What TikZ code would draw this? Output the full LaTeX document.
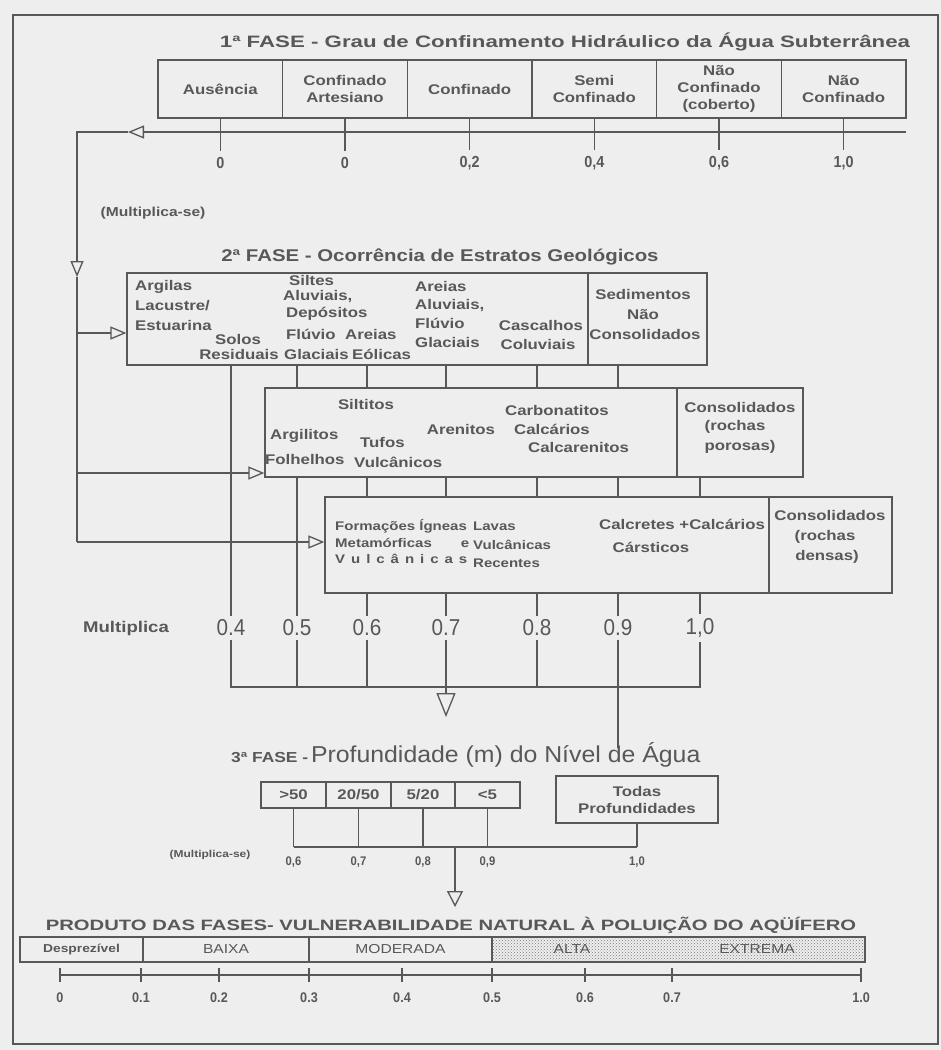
\documentclass[tikz,border=0pt]{standalone}
\usepackage{fontspec}
\setmainfont{Liberation Sans}
\newfontfamily\wf{Liberation Sans}[FakeStretch=1.2]
\newfontfamily\xf{Liberation Sans}[FakeStretch=1.35]
\newfontfamily\nf{Liberation Sans}[FakeStretch=0.9]
\newfontfamily\pf{Liberation Sans}[FakeStretch=1.08]
\usetikzlibrary{arrows.meta,patterns}
\definecolor{ink}{RGB}{88,88,88}
\definecolor{paper}{RGB}{238,238,238}
\tikzset{
  ln/.style={draw=ink, line width=1.3pt},
  bx/.style={draw=ink, line width=1.3pt, rectangle, inner sep=0pt, align=center, text=ink, font=\wf\bfseries\fontsize{14}{17}\selectfont},
  tx/.style={text=ink, inner sep=0pt, font=\wf\bfseries\fontsize{14}{17}\selectfont},
  tw/.style={tx, anchor=mid west},
  tc/.style={tx, anchor=mid},
  sm/.style={font=\wf\bfseries\fontsize{12.5}{14}\selectfont},
  arrA/.style={-{Triangle[open,length=16pt,width=13pt]}},
  arrB/.style={-{Triangle[open,length=24pt,width=19pt]}},
  num1/.style={text=ink, inner sep=0pt, font=\nf\bfseries\fontsize{16}{18}\selectfont},
  num2/.style={text=ink, inner sep=0pt, font=\nf\fontsize{23}{25}\selectfont},
  num3/.style={text=ink, inner sep=0pt, font=\nf\bfseries\fontsize{12.5}{14}\selectfont},
  bandtx/.style={text=ink, inner sep=0pt, font=\wf\fontsize{13}{15}\selectfont},
}
\begin{document}
\begin{tikzpicture}[x=1pt,y=-1pt]
\useasboundingbox (0,0) rectangle (941,1050);
\fill[paper] (0,0) rectangle (941,1050);
\draw[ln] (13,15) rectangle (938,1044);

% ---------------- FASE 1
\node[tx, font=\xf\bfseries\fontsize{16.5}{18}\selectfont] (t1) at (565,42) {1ª FASE - Grau de Confinamento Hidráulico da Água Subterrânea};
\node[bx, minimum width=124.7pt, minimum height=58pt] (f1a) at (220.33,89) {Ausência};
\node[bx, minimum width=124.7pt, minimum height=58pt] (f1b) at (345,89) {Confinado\\Artesiano};
\node[bx, minimum width=124.7pt, minimum height=58pt] (f1c) at (469.67,89) {Confinado};
\node[bx, minimum width=124.7pt, minimum height=58pt] (f1d) at (594.33,89) {Semi\\Confinado};
\node[bx, minimum width=124.7pt, minimum height=58pt] (f1e) at (719,89) {Não\\Confinado\\(coberto)};
\node[bx, minimum width=124.7pt, minimum height=58pt] (f1f) at (843.67,89) {Não\\Confinado};
\node[num1] (v1a) at (220.33,163) {0};
\node[num1] (v1b) at (345,163) {0};
\node[num1] (v1c) at (469.67,163) {0,2};
\node[num1] (v1d) at (594.33,163) {0,4};
\node[num1] (v1e) at (719,163) {0,6};
\node[num1] (v1f) at (843.67,163) {1,0};
\foreach \a in {a,b,c,d,e,f}{\draw[ln] (f1\a.south) -- ([yshift=6pt]v1\a.north);}
\coordinate (r1e) at (906,132);
\coordinate (r1t) at (128,132);
\coordinate (c1) at (77,132);
\coordinate (d1) at (77,277);
\coordinate (c2) at (77,542);
\draw[ln, arrA] (r1e) -- (r1t);
\draw[ln, arrA] (r1t) -- (c1) -- (d1);
\draw[ln] (d1) -- (c2);
\node[tx, font=\wf\bfseries\fontsize{13}{15}\selectfont] (ms1) at (153,213) {(Multiplica-se)};

% ---------------- FASE 2
\node[tx, font=\wf\bfseries\fontsize{17}{19}\selectfont] (t2) at (440,257) {2ª FASE - Ocorrência de Estratos Geológicos};
\node[bx, minimum width=461pt, minimum height=92pt] (f2a) at (357.5,319) {};
\node[bx, minimum width=119pt, minimum height=92pt] (f2aR) at (647.5,319) {};
\node[bx, minimum width=412pt, minimum height=89pt] (f2b) at (471,432.5) {};
\node[bx, minimum width=126pt, minimum height=89pt] (f2bR) at (740,432.5) {};
\node[bx, minimum width=444pt, minimum height=96pt] (f2c) at (547,545) {};
\node[bx, minimum width=123pt, minimum height=96pt] (f2cR) at (830.5,545) {};

% texts box 2a
\node[tw] (a1) at (135,288) {Argilas};
\node[tw] (a2) at (135,308) {Lacustre/};
\node[tw] (a3) at (135,328) {Estuarina};
\node[tc] (a4) at (238,342) {Solos};
\node[tc] (a5) at (239,357) {Residuais};
\node[tw] (a6) at (289,283) {Siltes};
\node[tw] (a7) at (283,298) {Aluviais,};
\node[tw] (a8) at (286,315) {Depósitos};
\node[tw] (a9) at (286,337) {Flúvio};
\node[tw] (a10) at (284,357) {Glaciais};
\node[tw] (a11) at (345,337) {Areias};
\node[tw] (a12) at (352,357) {Eólicas};
\node[tw] (a13) at (415,289) {Areias};
\node[tw] (a14) at (415,307) {Aluviais,};
\node[tw] (a15) at (415,326) {Flúvio};
\node[tw] (a16) at (415,345) {Glaciais};
\node[tc] (a17) at (541,328) {Cascalhos};
\node[tc] (a18) at (538,347) {Coluviais};
\node[tc] (a19) at (643,297) {Sedimentos};
\node[tc] (a20) at (643,317) {Não};
\node[tc] (a21) at (645,337) {Consolidados};
% texts box 2b
\node[tc] (b1) at (366,407) {Siltitos};
\node[tw] (b2) at (270,437) {Argilitos};
\node[tw] (b3) at (265,462) {Folhelhos};
\node[tw] (b4) at (360,445) {Tufos};
\node[tw] (b5) at (354,465) {Vulcânicos};
\node[tc] (b6) at (461,432) {Arenitos};
\node[tw] (b7) at (505,413) {Carbonatitos};
\node[tw] (b8) at (514,432) {Calcários};
\node[tw] (b9) at (528,450) {Calcarenitos};
\node[tc] (b10) at (740,410) {Consolidados};
\node[tc] (b11) at (735,428) {(rochas};
\node[tc] (b12) at (740,448) {porosas)};
% texts box 2c
\node[tw, sm] (c1t) at (335,528) {Formações Ígneas};
\node[tw, sm] (c2t) at (335,545) {\makebox[134pt][s]{Metamórficas e}};
\node[tw, sm] (c3t) at (335,561) {\makebox[132pt][s]{V u l c â n i c a s}};
\node[tw, sm] (c4t) at (473,528) {Lavas};
\node[tw, sm] (c5t) at (473,547) {Vulcânicas};
\node[tw, sm] (c6t) at (473,565) {Recentes};
\node[tw] (c7t) at (599,527) {Calcretes +Calcários};
\node[tc] (c8t) at (651,550) {Cársticos};
\node[tc] (c9t) at (830,518) {Consolidados};
\node[tc] (c10t) at (825,538) {(rochas};
\node[tc] (c11t) at (827,558) {densas)};

% branches into boxes
\coordinate (b1c) at (77,333);
\coordinate (b2c) at (77,473);
\coordinate (b3c) at (77,542);
\draw[ln, arrA] (b1c) -- (b1c -| f2a.west);
\draw[ln, arrA] (b2c) -- (b2c -| f2b.west);
\draw[ln, arrA] (b3c) -- (b3c -| f2c.west);

% values
\node[tx, font=\wf\bfseries\fontsize{15.5}{17}\selectfont] (mul) at (126,628) {Multiplica};
\node[num2] (m4) at (231,628) {0.4};
\node[num2] (m5) at (297,628) {0.5};
\node[num2] (m6) at (367,628) {0.6};
\node[num2] (m7) at (446,628) {0.7};
\node[num2] (m8) at (537,628) {0.8};
\node[num2] (m9) at (618,628) {0.9};
\node[num2] (m10) at (700,628) {1,0};

\draw[ln] (m4 |- f2a.south) -- ([yshift=4pt]m4.north);
\draw[ln] (m5 |- f2b.south) -- ([yshift=4pt]m5.north);
\foreach \n in {5,6,7,8,9}{\draw[ln] (m\n |- f2a.south) -- (m\n |- f2b.north);}
\foreach \n in {6,7,8,9,10}{\draw[ln] (m\n |- f2b.south) -- (m\n |- f2c.north);
  \draw[ln] (m\n |- f2c.south) -- ([yshift=4pt]m\n.north);}

\coordinate (h2) at (0,687);
\draw[ln] ([yshift=-4pt]m4.south) -- (m4 |- h2) -- (m10 |- h2) -- ([yshift=-4pt]m10.south);
\foreach \n in {5,6,8}{\draw[ln] ([yshift=-4pt]m\n.south) -- (m\n |- h2);}
\coordinate (a2tip) at (446,717);
\draw[ln, arrB] ([yshift=-4pt]m7.south) -- (a2tip);
\coordinate (l9) at (618,748);
\draw[ln] ([yshift=-4pt]m9.south) -- (l9);

% ---------------- FASE 3
\node[text=ink, inner sep=0pt, anchor=mid west] (t3) at (231,760) {{\wf\bfseries\fontsize{14.5}{16}\selectfont 3ª FASE -} {\pf\fontsize{23}{25}\selectfont Profundidade (m) do Nível de Água}};
\node[bx, minimum width=65pt, minimum height=26pt] (p1) at (293.5,795) {>50};
\node[bx, minimum width=65pt, minimum height=26pt] (p2) at (358.5,795) {20/50};
\node[bx, minimum width=64pt, minimum height=26pt] (p3) at (423,795) {5/20};
\node[bx, minimum width=65pt, minimum height=26pt] (p4) at (487.5,795) {<5};
\node[bx, minimum width=162pt, minimum height=47pt] (p5) at (637,799.5) {Todas\\Profundidades};
\coordinate (h3) at (0,847);
\foreach \n in {1,2,3,4,5}{\draw[ln] (p\n.south) -- (p\n |- h3);}
\draw[ln] (p1 |- h3) -- (p5 |- h3);
\node[num3] (q1) at (293.5,862) {0,6};
\node[num3] (q2) at (358.5,862) {0,7};
\node[num3] (q3) at (423,862) {0,8};
\node[num3] (q4) at (487.5,862) {0,9};
\node[num3] (q5) at (637,862) {1,0};
\node[tx, font=\wf\bfseries\fontsize{10}{12}\selectfont] (ms3) at (210,855) {(Multiplica-se)};
\coordinate (a3s) at (455,847);
\coordinate (a3t) at (455,907);
\draw[ln, -{Triangle[open,length=16pt,width=16pt]}] (a3s) -- (a3t);

% ---------------- PRODUTO
\node[tx, font=\xf\bfseries\fontsize{15}{17}\selectfont] (t4) at (451,925) {PRODUTO DAS FASES- VULNERABILIDADE NATURAL À POLUIÇÃO DO AQÜÍFERO};
\fill[pattern=crosshatch dots, pattern color=ink!80] (492,937) rectangle (865,962);
\node[bx, minimum width=123pt, minimum height=25pt, font=\wf\bfseries\fontsize{11.5}{13}\selectfont] (g0) at (81.5,949.5) {Desprezível};
\node[bx, minimum width=166pt, minimum height=25pt, font=\wf\fontsize{13}{15}\selectfont] (g1) at (226,949.5) {BAIXA};
\node[bx, minimum width=183pt, minimum height=25pt, font=\wf\fontsize{13}{15}\selectfont] (g2) at (400.5,949.5) {MODERADA};
\node[bx, minimum width=373pt, minimum height=25pt] (g3) at (678.5,949.5) {};
\node[bandtx] (g3a) at (572,949.5) {ALTA};
\node[bandtx] (g3b) at (757,949.5) {EXTREMA};

\coordinate (s0) at (60,975);
\coordinate (s10) at (861,975);
\draw[ln, line width=2pt] (s0) -- (s10);
\foreach \x/\l in {60/0,141/0.1,219/0.2,309/0.3,402/0.4,492/0.5,585/0.6,672/0.7,861/1.0}{
  \draw[ln] (\x,968) -- (\x,982);
  \node[num3, font=\nf\bfseries\fontsize{14}{16}\selectfont] at (\x,998) {\l};
}
\end{tikzpicture}
\end{document}
